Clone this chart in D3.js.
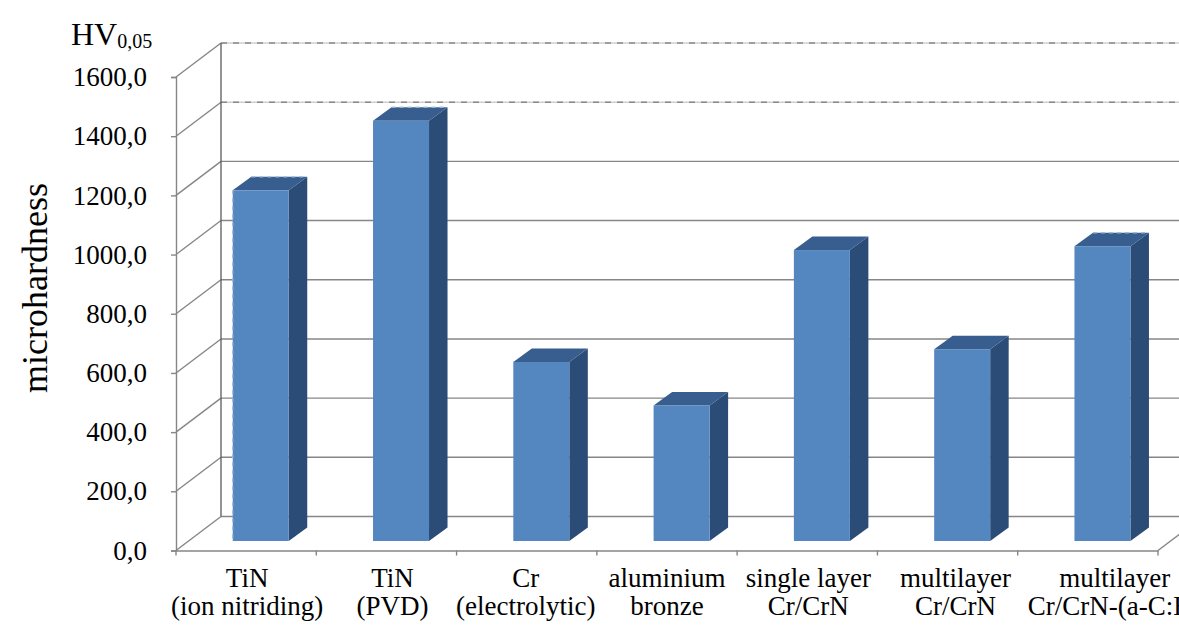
<!DOCTYPE html>
<html>
<head>
<meta charset="utf-8">
<script src="https://cdn.jsdelivr.net/npm/d3@7"></script>
<style>
  html, body { margin: 0; padding: 0; background: #fff; }
  svg { display: block; }
  svg text { font-family: 'Liberation Serif', 'Times New Roman', serif; }
</style>
</head>
<body>
<svg id="chart" width="1179" height="629"></svg>
<script>
// Microhardness HV0,05 of coatings and base materials
const categories = ["tin-ion", "tin-pvd", "cr-el", "al-bronze", "single", "multi", "multi-dlc"];
const labelLine1 = ["TiN", "TiN", "Cr", "aluminium", "single layer", "multilayer", "multilayer"];
const labelLine2 = ["(ion nitriding)", "(PVD)", "(electrolytic)", "bronze", "Cr/CrN", "Cr/CrN", "Cr/CrN-(a-C:H)"];
const hardness = [1185, 1420, 605, 458, 983, 648, 996];
const yTicks = [0, 200, 400, 600, 800, 1000, 1200, 1400, 1600];

(function () {
const svg = d3.select("#chart");
const W = 1179;
const serif = "'Liberation Serif', 'Times New Roman', serif";

// Oblique 3-D frame: front plane, back wall offset
const wallDX = 45, wallDY = -34;
const barFrontDepth = 0.28;      // fraction of floor depth where bar fronts sit
const barDX = 18.5, barDY = -13.5;
const barWidth = 56;
// horizontal nudges of the category text boxes
const labelNudge = [1, 6, -1, 0, 1, 8, 27];

const y = d3.scaleLinear().domain([0, 1600]).range([550.5, 77]);
const x = d3.scaleBand().domain(categories).range([176, 1158]).paddingInner(0).paddingOuter(0);
const x0 = x.range()[0];
const x1 = x.range()[1];

const grid = "#868686";

// Back wall gridlines
const g = svg.append("g");
yTicks.forEach(v => {
  const yy = y(v) + wallDY;
  const dashed = v >= 1400;
  if (dashed) {
    g.append("line").attr("x1", x0 + wallDX).attr("x2", W).attr("y1", yy).attr("y2", yy)
      .attr("stroke", "#cfcfcf").attr("stroke-width", 1.4);
    g.append("line").attr("x1", x0 + wallDX).attr("x2", W).attr("y1", yy).attr("y2", yy)
      .attr("stroke", "#8a8a8a").attr("stroke-width", 1.4).attr("stroke-dasharray", "6,6");
  } else {
    g.append("line").attr("x1", x0 + wallDX).attr("x2", W).attr("y1", yy).attr("y2", yy)
      .attr("stroke", grid).attr("stroke-width", 1.4);
  }
  // side wall diagonals
  g.append("line").attr("x1", x0).attr("y1", y(v)).attr("x2", x0 + wallDX).attr("y2", yy)
    .attr("stroke", grid).attr("stroke-width", 1.4);
});
// back wall left edge
g.append("line").attr("x1", x0 + wallDX).attr("x2", x0 + wallDX)
  .attr("y1", y(1600) + wallDY).attr("y2", y(0) + wallDY)
  .attr("stroke", "#5a5a5a").attr("stroke-width", 1.3);

// Value axis (front edge of side wall) with ticks
const yAxis = d3.axisLeft(y).tickValues(yTicks).tickSize(5)
  .tickFormat(d => d3.format(".1f")(d).replace(".", ","));
const ya = svg.append("g").attr("transform", `translate(${x0},0)`).call(yAxis)
  .attr("font-family", serif).attr("font-size", 27);
ya.select(".domain").attr("stroke", grid).attr("stroke-width", 1.4);
ya.selectAll(".tick line").attr("stroke", grid).attr("stroke-width", 1.4);
ya.selectAll(".tick text").attr("x", -29).attr("fill", "#000");

// Floor front edge with category ticks
const xAxis = d3.axisBottom(x).tickSize(0).tickFormat("");
const xa = svg.append("g").attr("transform", `translate(0,${y(0)})`).call(xAxis);
xa.select(".domain").attr("stroke", grid).attr("stroke-width", 1.4);
const boundaries = categories.map(c => x(c)).concat([x1]);
xa.selectAll(".bound").data(boundaries).join("line").attr("class", "bound")
  .attr("x1", d => d).attr("x2", d => d).attr("y1", 0).attr("y2", 5)
  .attr("stroke", grid).attr("stroke-width", 1.4);
// floor right corner receding into depth
svg.append("line").attr("x1", x1).attr("y1", y(0)).attr("x2", x1 + wallDX).attr("y2", y(0) + wallDY)
  .attr("stroke", grid).attr("stroke-width", 1.4);

// Bars
const offX = barFrontDepth * wallDX + 2;
const offY = barFrontDepth * wallDY;
const frontFill = "#5486c0", sideFill = "#2b4c77", topFill = "#375e8f";
const bars = svg.append("g");
categories.forEach((c, i) => {
  const xl = x(c) + x.bandwidth() / 2 - barWidth / 2 + offX;
  const xr = xl + barWidth;
  const yb = y(0) + offY;
  const yt = y(hardness[i]) + offY;
  const pts = a => a.map(p => p.join(",")).join(" ");
  bars.append("polygon").attr("points", pts([[xr, yt], [xr + barDX, yt + barDY], [xr + barDX, yb + barDY], [xr, yb]]))
    .attr("fill", sideFill);
  bars.append("polygon").attr("points", pts([[xl, yt], [xr, yt], [xr + barDX, yt + barDY], [xl + barDX, yt + barDY]]))
    .attr("fill", topFill);
  bars.append("rect").attr("x", xl).attr("y", yt).attr("width", barWidth).attr("height", yb - yt)
    .attr("fill", frontFill);
  // light dashed outline on some bar edges
  if (i === 0 || i === 1 || i === 6) {
    bars.append("line").attr("x1", xl + barDX).attr("x2", xr + barDX).attr("y1", yt + barDY).attr("y2", yt + barDY)
      .attr("stroke", "#9fb8d8").attr("stroke-width", 1.3).attr("stroke-dasharray", "4,4");
  }
  if (i === 0) {
    bars.append("line").attr("x1", xl).attr("x2", xl).attr("y1", yt).attr("y2", yb)
      .attr("stroke", "#9fb8d8").attr("stroke-width", 1.3).attr("stroke-dasharray", "4,4");
  }
});

// Category labels
const lab = svg.append("g").attr("fill", "#000").attr("font-family", serif).attr("font-size", 27);
categories.forEach((c, i) => {
  const cx = x(c) + x.bandwidth() / 2 + labelNudge[i];
  lab.append("text").attr("x", cx).attr("y", 587).attr("text-anchor", "middle").text(labelLine1[i]);
  lab.append("text").attr("x", cx).attr("y", 615).attr("text-anchor", "middle").text(labelLine2[i]);
});

// Axis titles
const t = svg.append("text").attr("x", 71).attr("y", 45).attr("fill", "#000")
  .attr("font-family", serif).attr("font-size", 32);
t.append("tspan").text("HV");
t.append("tspan").attr("dy", 3).attr("font-size", 20).text("0,05");

svg.append("text").attr("transform", "translate(47,288) rotate(-90)").attr("text-anchor", "middle")
  .attr("fill", "#000").attr("font-family", serif).attr("font-size", 36).text("microhardness");
})();
</script>
</body>
</html>
